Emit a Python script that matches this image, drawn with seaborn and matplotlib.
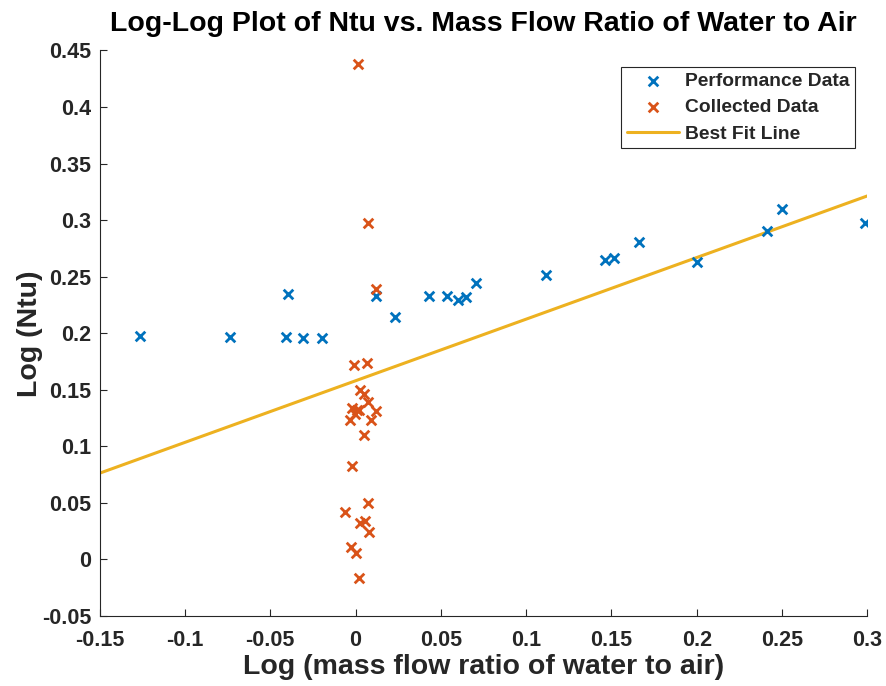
import numpy as np
import pandas as pd
import matplotlib
matplotlib.use("Agg")
import matplotlib.pyplot as plt
import seaborn as sns

# Performance data (log mass flow ratio, log Ntu)
perf_x = [-0.1264, -0.0735, -0.0398, -0.0410, -0.0307, -0.0199, 0.0120, 0.0231,
          0.0432, 0.0538, 0.0602, 0.0647, 0.0706, 0.1116, 0.1462, 0.1515,
          0.1660, 0.2003, 0.2410, 0.2498, 0.2986]
perf_y = [0.198, 0.197, 0.2347, 0.197, 0.196, 0.196, 0.233, 0.2147,
          0.2326, 0.2326, 0.2297, 0.2318, 0.2444, 0.2518, 0.2647, 0.2665,
          0.2809, 0.2632, 0.290, 0.3102, 0.2979]

# Collected data
coll_x = [0.0012, 0.0075, 0.0120, -0.0008, 0.0065, 0.0026, 0.0051, 0.0075,
          -0.0023, 0.0006, 0.0022, -0.0004, 0.0120, -0.0033, 0.0090, 0.0051,
          -0.0023, 0.0075, -0.0062, 0.0026, 0.0055, 0.0080, -0.0027, 0.0002, 0.0020]
coll_y = [0.438, 0.2974, 0.239, 0.172, 0.174, 0.1495, 0.1466, 0.139,
          0.134, 0.1324, 0.1318, 0.129, 0.131, 0.1236, 0.123, 0.110,
          0.0824, 0.050, 0.0416, 0.0325, 0.0342, 0.0245, 0.0113, 0.0055, -0.016]

# Best fit line coefficients and range
fit_slope = 0.5447
fit_intercept = 0.158
fit_range = [-0.15, 0.3]

BLUE = "#0072BD"
ORANGE = "#D95319"
YELLOW = "#EDB120"

sns.set_theme(style="ticks")
plt.rcParams['font.family'] = ['Liberation Sans', 'DejaVu Sans']
plt.rcParams['font.weight'] = 'bold'

fig = plt.figure(figsize=(8.87, 6.86), dpi=100)
ax = fig.add_axes([0.1124, 0.102, 0.8654, 0.8244])

perf = pd.DataFrame({"x": perf_x, "y": perf_y})
coll = pd.DataFrame({"x": coll_x, "y": coll_y})
fx = np.array(fit_range)
fit = pd.DataFrame({"x": fx, "y": fit_slope * fx + fit_intercept})

sns.scatterplot(data=perf, x="x", y="y", marker="x", color=BLUE, s=48,
                linewidth=2.0, label="Performance Data", ax=ax, zorder=3)
sns.scatterplot(data=coll, x="x", y="y", marker="x", color=ORANGE, s=48,
                linewidth=2.0, label="Collected Data", ax=ax, zorder=3)
sns.lineplot(data=fit, x="x", y="y", color=YELLOW, linewidth=2.2,
             label="Best Fit Line", ax=ax, zorder=2)

ax.set_xlim(-0.15, 0.3)
ax.set_ylim(-0.05, 0.45)
ax.set_xticks(np.arange(-0.15, 0.301, 0.05))
ax.set_yticks(np.arange(-0.05, 0.451, 0.05))
ax.set_xticklabels(["-0.15", "-0.1", "-0.05", "0", "0.05", "0.1", "0.15", "0.2", "0.25", "0.3"])
ax.set_yticklabels(["-0.05", "0", "0.05", "0.1", "0.15", "0.2", "0.25", "0.3", "0.35", "0.4", "0.45"])
ax.tick_params(direction="in", length=5, width=0.8, colors="#262626",
               labelsize=15.5, labelcolor="#262626")
ax.tick_params(axis="y", pad=6)
ax.tick_params(axis="x", pad=10)
for lab in ax.get_xticklabels() + ax.get_yticklabels():
    lab.set_fontweight("bold")
for side in ["top", "right"]:
    ax.spines[side].set_visible(False)
for side in ["left", "bottom"]:
    ax.spines[side].set_color("#262626")
    ax.spines[side].set_linewidth(0.8)

ax.set_xlabel("Log (mass flow ratio of water to air)", fontsize=20.5, fontweight="bold",
              color="#262626", labelpad=2)
ax.set_ylabel("Log (Ntu)", fontsize=20.5, fontweight="bold", color="#262626", labelpad=-1)
ax.set_title("Log-Log Plot of Ntu vs. Mass Flow Ratio of Water to Air", fontsize=20.5,
             fontweight="bold", color="black", pad=14)

leg = ax.legend(loc="upper right", bbox_to_anchor=(0.984, 0.971), fontsize=13.9,
                frameon=True, fancybox=False, edgecolor="#262626", framealpha=1,
                borderpad=0.3, labelspacing=0.45, handlelength=2.7, handletextpad=0.3,
                borderaxespad=0)
leg.get_frame().set_linewidth(0.8)
for t in leg.get_texts():
    t.set_fontweight("bold")

fig.savefig("out.png", dpi=100)
